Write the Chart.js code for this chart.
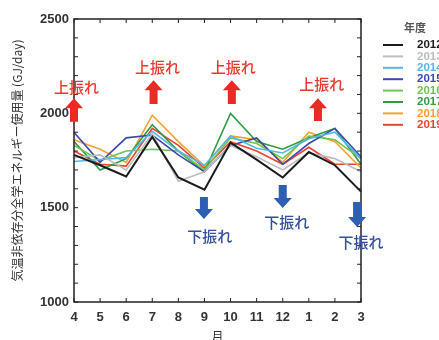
<!DOCTYPE html>
<html>
<head>
<meta charset="utf-8">
<script src="https://cdn.jsdelivr.net/npm/chart.js@4.4.1/dist/chart.umd.min.js"></script>
<style>
  html, body { margin: 0; padding: 0; background: #fff; }
  #wrap { width: 439px; height: 340px; position: relative; }
</style>
</head>
<body>
<div id="wrap"><canvas id="c"></canvas></div>
<script>
// months of the fiscal year (April - March)
const months = ['4', '5', '6', '7', '8', '9', '10', '11', '12', '1', '2', '3'];
const years = ['2012', '2013', '2014', '2015', '2016', '2017', '2018', '2019'];
const yearColors = ['#1b1b1b', '#bdbdbd', '#52b9e6', '#3c48b0', '#72c255', '#2f9b45', '#f8a030', '#e8452e'];

// temperature-independent energy use (GJ/day)
const fy2012 = [1780, 1725, 1665, 1875, 1660, 1595, 1845, 1755, 1660, 1795, 1725, 1585];
const fy2013 = [1765, 1780, 1700, 1890, 1640, 1690, 1830, 1770, 1700, 1790, 1760, 1690];
const fy2014 = [1745, 1755, 1765, 1905, 1800, 1725, 1880, 1815, 1790, 1865, 1900, 1760];
const fy2015 = [1900, 1740, 1870, 1885, 1780, 1690, 1830, 1870, 1730, 1840, 1920, 1770];
const fy2016 = [1830, 1750, 1800, 1810, 1800, 1700, 1870, 1840, 1760, 1880, 1860, 1760];
const fy2017 = [1850, 1700, 1760, 1940, 1800, 1690, 2000, 1850, 1810, 1870, 1920, 1730];
const fy2018 = [1860, 1810, 1740, 1990, 1850, 1720, 1880, 1860, 1740, 1900, 1850, 1710];
const fy2019 = [1800, 1730, 1720, 1920, 1830, 1710, 1850, 1800, 1730, 1820, 1730, 1730];
const seriesValues = [fy2012, fy2013, fy2014, fy2015, fy2016, fy2017, fy2018, fy2019];

// arrow annotations: month index, value range of the arrow, value of the label
const upMarks = [
  { at: 0, from: 1955, to: 2080, textAt: 0.1, textY: 2140 },
  { at: 3.05, from: 2050, to: 2175, textAt: 3.2, textY: 2245 },
  { at: 6.05, from: 2050, to: 2175, textAt: 6.1, textY: 2245 },
  { at: 9.35, from: 1960, to: 2080, textAt: 9.5, textY: 2155 }
];
const downMarks = [
  { at: 4.98, from: 1557, to: 1440, textAt: 5.2, textY: 1350 },
  { at: 8.0, from: 1620, to: 1498, textAt: 8.15, textY: 1424 },
  { at: 10.85, from: 1530, to: 1398, textAt: 11.0, textY: 1318 }
];

const jpFont = '"Noto Sans CJK JP", "Noto Sans", sans-serif';
const numFont = '"Liberation Sans", Arial, sans-serif';

// frame + inward ticks, arrows and the year legend
const decorPlugin = {
  id: 'decor',
  afterDraw(chart) {
    const ctx = chart.ctx;
    const area = chart.chartArea;
    const xs = chart.scales.x;
    const ys = chart.scales.y;
    ctx.save();

    // frame
    ctx.strokeStyle = '#222';
    ctx.lineWidth = 1.5;
    ctx.strokeRect(area.left, area.top, area.right - area.left, area.bottom - area.top);

    // inward tick marks
    ctx.lineWidth = 1;
    ys.ticks.forEach(t => {
      const y = ys.getPixelForValue(t.value);
      ctx.beginPath();
      ctx.moveTo(area.left, y); ctx.lineTo(area.left + 4, y);
      ctx.moveTo(area.right, y); ctx.lineTo(area.right - 4, y);
      ctx.stroke();
    });
    months.forEach((m, i) => {
      const x = xs.getPixelForValue(i);
      ctx.beginPath();
      ctx.moveTo(x, area.bottom); ctx.lineTo(x, area.bottom - 4);
      ctx.moveTo(x, area.top); ctx.lineTo(x, area.top + 4);
      ctx.stroke();
    });

    // block arrows
    const drawArrow = (mark, color) => {
      const x = xs.getPixelForValue(mark.at);
      const y0 = ys.getPixelForValue(mark.from);
      const y1 = ys.getPixelForValue(mark.to);
      const dir = y1 < y0 ? -1 : 1;
      const head = 10, shaftHalf = 4, headHalf = 9;
      const yh = y1 - dir * head;
      ctx.fillStyle = color;
      ctx.beginPath();
      ctx.moveTo(x - shaftHalf, y0);
      ctx.lineTo(x - shaftHalf, yh);
      ctx.lineTo(x - headHalf, yh);
      ctx.lineTo(x, y1);
      ctx.lineTo(x + headHalf, yh);
      ctx.lineTo(x + shaftHalf, yh);
      ctx.lineTo(x + shaftHalf, y0);
      ctx.closePath();
      ctx.fill();
    };
    ctx.textAlign = 'center';
    ctx.textBaseline = 'middle';
    ctx.font = '500 15px ' + jpFont;
    upMarks.forEach(m => {
      drawArrow(m, '#ea2a24');
      ctx.fillStyle = '#ea3a30';
      ctx.fillText('上振れ', xs.getPixelForValue(m.textAt), ys.getPixelForValue(m.textY));
    });
    downMarks.forEach(m => {
      drawArrow(m, '#2d5fb4');
      ctx.fillStyle = '#34509c';
      ctx.fillText('下振れ', xs.getPixelForValue(m.textAt), ys.getPixelForValue(m.textY));
    });

    // legend
    ctx.fillStyle = '#555';
    ctx.font = 'bold 11px ' + jpFont;
    ctx.fillText('年度', 415, 28);
    ctx.textAlign = 'left';
    ctx.font = 'bold 11.5px ' + numFont;
    chart.data.datasets.forEach((ds, i) => {
      const y = 45 + i * 11.4;
      ctx.strokeStyle = ds.borderColor;
      ctx.lineWidth = 2;
      ctx.beginPath();
      ctx.moveTo(383, y); ctx.lineTo(403, y);
      ctx.stroke();
      ctx.fillStyle = ds.borderColor;
      ctx.fillText(ds.label, 417, y);
    });
    ctx.restore();
  }
};

new Chart(document.getElementById('c'), {
  type: 'line',
  data: {
    labels: months,
    datasets: years.map((yr, i) => ({
      label: yr,
      data: seriesValues[i],
      borderColor: yearColors[i],
      backgroundColor: yearColors[i],
      borderWidth: i === 0 ? 2 : 1.6,
      pointRadius: 0,
      tension: 0
    }))
  },
  options: {
    responsive: true,
    maintainAspectRatio: false,
    animation: false,
    layout: { padding: { top: 19, right: 78, bottom: 0, left: 0 } },
    plugins: {
      legend: { display: false },
      tooltip: { enabled: false }
    },
    scales: {
      x: {
        offset: false,
        grid: { display: false, drawTicks: false },
        border: { display: false },
        ticks: { color: '#333', padding: 8, font: { family: numFont, size: 13, weight: 'bold' }, maxRotation: 0, autoSkip: false },
        title: { display: true, text: '月', color: '#333', font: { family: jpFont, size: 12 }, padding: { top: 0, bottom: -4 } },
        afterFit: s => { s.height = 38; }
      },
      y: {
        min: 1000,
        max: 2500,
        grid: { display: false, drawTicks: false },
        border: { display: false },
        ticks: {
          stepSize: 100,
          color: '#333',
          padding: 5,
          font: { family: numFont, size: 13, weight: 'bold' },
          callback: v => (v % 500 === 0 ? v : '')
        },
        title: {
          display: true,
          text: '気温非依存分全学エネルギー使用量 (GJ/day)',
          color: '#333',
          font: { family: jpFont, size: 12 },
          padding: { top: 10, bottom: 0 }
        },
        afterFit: s => { s.width = 74; }
      }
    }
  },
  plugins: [decorPlugin]
});
</script>
</body>
</html>
